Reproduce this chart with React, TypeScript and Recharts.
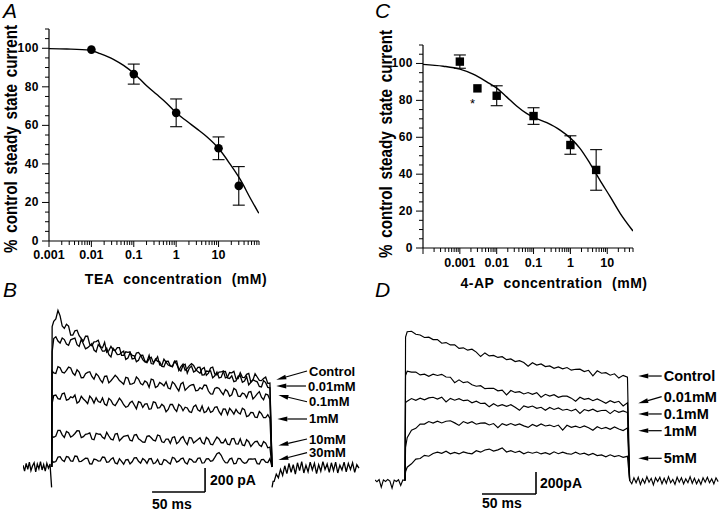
import React from 'react';
import {
  ComposedChart,
  LineChart,
  Line,
  Scatter,
  ErrorBar,
  XAxis,
  YAxis,
  ReferenceLine,
  ReferenceDot,
} from 'recharts';

// ---------------- Panel A : TEA dose-response ----------------
const teaConc = [0.01, 0.1, 1, 10, 30];
const teaMean = [99.3, 86.6, 66.5, 48.1, 28.6];
const teaErr = [0, 5.2, 7.2, 5.9, 10];
const teaFitConc = [0.001, 0.00263, 0.0093, 0.0162, 0.0331, 0.0575, 0.1, 0.141, 0.204, 0.351, 0.605, 1, 1.8, 3.09, 5.37, 10, 19.1, 32.7, 56.2, 89];
const teaFitVal = [99.8, 99.6, 99.0, 97.2, 94.3, 91.1, 87.0, 83.9, 80.4, 76.0, 71.4, 66.5, 62.1, 58.2, 54.0, 48.1, 39.6, 31.8, 22.2, 14.4];

// ---------------- Panel C : 4-AP dose-response ----------------
const apConc = [0.001, 0.003, 0.01, 0.1, 1, 5];
const apMean = [101, 86.5, 82.5, 71.5, 55.8, 42.3];
const apErr = [3.6, 0, 5.4, 4.5, 5, 11];
const apFitConc = [0.0001, 0.000355, 0.001, 0.00229, 0.00537, 0.0102, 0.0186, 0.0347, 0.0646, 0.102, 0.229, 0.525, 1.02, 1.82, 3.39, 6.31, 12.0, 22.4, 50];
const apFitVal = [99.5, 98.5, 96.9, 94.2, 90.0, 86.5, 81.9, 76.9, 72.9, 70.8, 67.9, 63.9, 59.4, 54.0, 45.9, 36.8, 27.8, 18.8, 9.2];

// axis tick labels
const yLabelTicks = [0, 20, 40, 60, 80, 100];
const yMinorTicks = [0, 5, 10, 15, 20, 25, 30, 35, 40, 45, 50, 55, 60, 65, 70, 75, 80, 85, 90, 95, 100, 105, 110];
const xLabelsA = [0.001, 0.01, 0.1, 1, 10];
const xLabelsC = [0.001, 0.01, 0.1, 1, 10];
const decadesA = [0.001, 0.01, 0.1, 1, 10];
const decadesC = [0.0001, 0.001, 0.01, 0.1, 1, 10];
const mults = [1, 2, 3, 4, 5, 6, 7, 8, 9];

// ---------------- Panel B : TEA current traces (ms, pA) ----------------
const tB = [0, 0.5, 2, 6, 10, 14, 18, 22, 26, 30, 34, 38, 42, 46, 50, 54, 58, 62, 66, 70, 74, 78, 82, 86, 90, 94, 98, 102, 106, 110, 114, 118, 122, 126, 130, 134, 138, 142, 146, 150, 154, 158, 162, 166, 170, 174, 178, 182, 186, 190, 194, 198, 202, 206, 208];
const bControl = [0, 1170, 1215, 1305, 1175, 1190, 1100, 1135, 1095, 1050, 1090, 1010, 1045, 1005, 1040, 970, 975, 995, 930, 960, 960, 905, 955, 895, 870, 915, 890, 850, 898, 850, 835, 883, 837, 805, 845, 847, 795, 818, 765, 825, 775, 790, 800, 750, 785, 735, 785, 745, 780, 725, 750, 720, 750, 700, 0];
const b001 = [0, 960, 1070, 1050, 1075, 1025, 1060, 1075, 1005, 1025, 995, 1030, 960, 1000, 965, 937, 990, 937, 955, 897, 950, 927, 890, 932, 880, 862, 900, 877, 835, 882, 840, 857, 800, 857, 825, 792, 830, 767, 800, 802, 760, 742, 795, 742, 760, 717, 760, 717, 685, 727, 710, 667, 703, 660, 0];
const b01 = [0, 800, 785, 837, 790, 805, 825, 765, 792, 745, 788, 755, 778, 726, 755, 701, 741, 747, 707, 748, 689, 701, 733, 684, 705, 732, 663, 705, 676, 658, 709, 661, 692, 639, 675, 687, 638, 650, 680, 610, 655, 654, 603, 632, 602, 642, 588, 609, 625, 567, 609, 581, 608, 560, 0];
const b1 = [0, 530, 595, 570, 610, 557, 585, 600, 546, 567, 528, 570, 577, 538, 525, 572, 523, 540, 551, 498, 535, 517, 544, 496, 528, 485, 537, 495, 507, 479, 521, 464, 506, 498, 461, 503, 476, 509, 462, 455, 498, 461, 484, 436, 468, 480, 442, 478, 428, 453, 412, 445, 412, 405, 0];
const b10 = [0, 255, 248, 305, 268, 296, 250, 279, 301, 253, 276, 233, 281, 273, 236, 258, 226, 279, 237, 260, 223, 266, 234, 207, 255, 244, 217, 261, 204, 233, 246, 195, 239, 212, 246, 200, 229, 203, 246, 190, 219, 233, 202, 190, 234, 192, 235, 178, 211, 193, 214, 170, 199, 165, 0];
const b30 = [0, 50, 40, 82, 58, 87, 50, 91, 45, 60, 72, 25, 62, 51, 80, 43, 77, 26, 47, 60, 25, 76, 48, 70, 30, 70, 35, 23, 62, 38, 80, 40, 68, 37, 68, 40, 72, 32, 68, 47, 80, 120, 60, 35, 73, 30, 70, 31, 65, 65, 28, 62, 40, 70, 0];
// in-between samples of the same traces (t = 4, 8, ... 204 ms)
const tB2 = [4, 8, 12, 16, 20, 24, 28, 32, 36, 40, 44, 48, 52, 56, 60, 64, 68, 72, 76, 80, 84, 88, 92, 96, 100, 104, 108, 112, 116, 120, 124, 128, 132, 136, 140, 144, 148, 152, 156, 160, 164, 168, 172, 176, 180, 184, 188, 192, 196, 200, 204];
const bControl2 = [1235, 1260, 1155, 1175, 1100, 1140, 1070, 1090, 1022, 1043, 1057, 993, 955, 1005, 970, 995, 930, 955, 900, 950, 930, 875, 902, 870, 920, 846, 874, 842, 881, 805, 858, 822, 861, 813, 781, 829, 782, 832, 767, 792, 742, 787, 797, 737, 747, 772, 707, 777, 722, 737, 697];
const b0012 = [1085, 1033, 1062, 1015, 1068, 1020, 1065, 985, 1010, 975, 1020, 965, 991, 918, 966, 938, 966, 908, 931, 878, 931, 883, 931, 858, 881, 838, 881, 843, 881, 818, 846, 783, 841, 803, 831, 768, 796, 743, 791, 748, 796, 738, 711, 758, 706, 753, 706, 718, 671, 720, 664];
const b012 = [780, 828, 783, 833, 783, 811, 744, 777, 794, 732, 760, 703, 758, 719, 764, 720, 690, 741, 693, 750, 696, 717, 664, 725, 672, 693, 710, 651, 693, 634, 706, 657, 684, 635, 662, 683, 633, 608, 662, 626, 645, 590, 655, 590, 616, 577, 629, 586, 628, 560, 602];
const b12 = [600, 565, 616, 563, 577, 533, 589, 550, 591, 533, 545, 576, 513, 555, 511, 573, 519, 506, 548, 485, 537, 524, 481, 543, 491, 523, 460, 522, 485, 522, 469, 492, 454, 517, 465, 453, 496, 464, 502, 435, 482, 489, 441, 453, 490, 420, 455, 415, 463, 411, 436];
const b102 = [258, 305, 247, 285, 260, 302, 245, 272, 284, 227, 274, 247, 289, 232, 275, 218, 256, 264, 217, 270, 223, 206, 260, 223, 266, 210, 233, 197, 251, 209, 253, 187, 241, 215, 244, 192, 231, 185, 249, 202, 231, 185, 238, 191, 184, 227, 170, 211, 182, 212, 160];
const b302 = [45, 86, 45, 82, 48, 88, 47, 73, 26, 66, 49, 83, 39, 65, 34, 69, 23, 62, 43, 77, 32, 57, 67, 27, 64, 20, 55, 26, 73, 49, 75, 25, 61, 41, 75, 35, 70, 53, 110, 98, 37, 66, 26, 72, 43, 36, 67, 69, 25, 63, 37];
const tBpre = [-27, -25.5, -24, -22.5, -21, -19.5, -18, -16.5, -15, -13.5, -12, -10.5, -9, -7.5, -6, -4.5, -3, -1.5, 0];
const bPre = [15, -35, 30, -20, 40, -30, 10, 35, -40, 25, -15, 45, -25, 20, -35, 30, -10, 25, -170];
const tBpost = [208, 209, 210, 212, 214, 216, 218, 220, 222, 224, 226, 228, 230, 232, 234, 236, 238, 240, 242, 244, 246, 248, 250, 252, 254, 256, 258, 260, 262, 264, 266, 268, 270, 272, 274, 276, 278, 280, 282, 284, 286, 288, 290];
const bPost = [-170, -120, -120, -60, -90, -20, -70, 10, -55, 30, -45, 20, -60, 35, -30, 45, -50, 15, -40, 40, -25, 30, -55, 20, -35, 45, -20, 25, -45, 35, -30, 40, -50, 15, -25, 40, -40, 30, -20, 35, -45, 20, -10];

// ---------------- Panel D : 4-AP current traces (ms, pA) ----------------
const tD = [0, 0.5, 2, 6, 10, 14, 18, 22, 26, 30, 34, 38, 42, 46, 50, 54, 58, 62, 66, 70, 74, 78, 82, 86, 90, 94, 98, 102, 106, 110, 114, 118, 122, 126, 130, 134, 138, 142, 146, 150, 154, 158, 162, 166, 170, 174, 178, 182, 186, 190, 194, 198, 202, 206, 208];
const dControl = [0, 1305, 1352, 1357, 1329, 1323, 1300, 1303, 1281, 1282, 1248, 1254, 1233, 1233, 1201, 1206, 1185, 1194, 1167, 1127, 1160, 1133, 1137, 1119, 1126, 1099, 1105, 1081, 1090, 1073, 1039, 1071, 1050, 1060, 1036, 1042, 1020, 1033, 1015, 1027, 1003, 1011, 1012, 990, 1002, 952, 997, 975, 980, 957, 970, 931, 956, 940, 0];
const d001 = [0, 954, 994, 986, 986, 960, 967, 948, 967, 955, 965, 941, 939, 890, 915, 890, 898, 871, 857, 862, 835, 839, 838, 815, 822, 778, 818, 801, 808, 787, 800, 783, 799, 758, 784, 768, 780, 756, 767, 767, 749, 721, 757, 738, 746, 726, 742, 723, 702, 726, 708, 720, 678, 707, 0];
const d01 = [0, 708, 720, 745, 729, 748, 733, 751, 757, 741, 758, 715, 747, 730, 744, 726, 731, 707, 721, 700, 703, 670, 698, 676, 689, 675, 689, 666, 638, 678, 665, 677, 656, 666, 638, 664, 646, 660, 639, 648, 632, 649, 610, 645, 633, 649, 627, 637, 639, 608, 638, 620, 633, 618, 0];
const d1 = [0, 300, 390, 458, 474, 514, 513, 536, 522, 539, 523, 539, 543, 524, 501, 536, 520, 535, 512, 522, 524, 505, 518, 481, 517, 502, 518, 502, 514, 497, 483, 510, 493, 514, 496, 504, 489, 504, 459, 502, 484, 494, 480, 497, 480, 457, 489, 471, 483, 466, 487, 469, 454, 477, 0];
const d5 = [0, 80, 121, 152, 195, 200, 229, 221, 246, 258, 247, 266, 243, 255, 242, 260, 249, 243, 271, 258, 278, 286, 268, 279, 297, 259, 271, 255, 267, 243, 259, 248, 259, 242, 253, 238, 261, 244, 258, 245, 239, 257, 239, 249, 231, 246, 227, 233, 216, 234, 218, 227, 211, 220, 0];
const tDpre = [-28, -26, -24, -22, -20, -18, -16, -14, -12, -10, -8, -6, -4, -2, 0];
const dPre = [5, -10, 8, -60, 6, -8, 10, -5, -70, 4, -9, 7, -45, 5, 0];
const tDpost = [208, 210, 212, 214, 216, 218, 220, 222, 224, 226, 228, 230, 232, 234, 236, 238, 240, 242, 244, 246, 248, 250, 252, 254, 256, 258, 260, 262, 264, 266, 268, 270, 272, 274, 276, 278, 280, 282, 284, 286, 288, 290];
const dPost = [0, -30, 25, -20, 30, -35, 15, -25, 35, -15, 20, -40, 25, -10, 30, -30, 20, -25, 35, -20, 10, -35, 30, -15, 25, -30, 15, -20, 35, -25, 20, -30, 10, -35, 25, -15, 30, -20, 15, -30, 25, -10];

// trace annotations: label, tail (ms, pA) and arrow tip (ms, pA)
const labelsB = [
  { text: 'Control', from: [241, 800], to: [212, 727] },
  { text: '0.01mM', from: [240, 675], to: [212, 675] },
  { text: '0.1mM', from: [241, 544], to: [214, 600] },
  { text: '1mM', from: [241, 400], to: [213, 400] },
  { text: '10mM', from: [241, 233], to: [214, 178] },
  { text: '30mM', from: [241, 119], to: [214, 58] },
];
const labelsD = [
  { text: 'Control', from: [237.7, 950], to: [216, 950] },
  { text: '0.01mM', from: [237.7, 762], to: [216, 702] },
  { text: '0.1mM', from: [237.7, 605], to: [216, 605] },
  { text: '1mM', from: [237.7, 453], to: [216, 453] },
  { text: '5mM', from: [237.7, 202], to: [216, 202] },
];
// scale bars: 200 pA, 50 ms
const scaleB = { t: 144.8, top: -8, amp: 200, dur: 50 };
const scaleD = { t: 121.3, top: 77, amp: 200, dur: 50 };

// ---------------- helpers ----------------
const mkXY = (xs: number[], ys: number[], es?: number[]) =>
  xs.map((x, i) => ({ x, y: ys[i], err: es ? es[i] : 0 }));
const mkT = (ts: number[], vs: number[]) => ts.map((t, i) => ({ t, v: vs[i] }));
const mkT2 = (ts: number[], vs: number[], ts2: number[], vs2: number[]) =>
  [...mkT(ts, vs), ...mkT(ts2, vs2)].sort((a, b) => a.t - b.t);
const logTicks = (decs: number[], max: number) =>
  decs.flatMap((d) => mults.map((m) => +(d * m).toPrecision(6))).filter((v) => v <= max);

const SANS = 'Arial, "Liberation Sans", Helvetica, sans-serif';

const xTickStyle: React.CSSProperties = { fontFamily: SANS, fontWeight: 700, fontSize: 12.5, fill: '#000' };
const yTickStyle: React.CSSProperties = { fontFamily: SANS, fontWeight: 700, fontSize: 12, letterSpacing: 0.5, fill: '#000' };

function makeXTick(labels: number[], labelDy: number) {
  return (p: any) => {
    const { x, y, payload } = p;
    const v = payload.value as number;
    const lg = Math.log10(v);
    const major = Math.abs(lg - Math.round(lg)) < 1e-6;
    const lab = labels.find((l) => Math.abs(l - v) < 1e-12);
    return (
      <g>
        <line x1={x} x2={x} y1={y} y2={y + (major ? 6 : 4)} stroke="#000" strokeWidth={1} />
        {lab !== undefined && (
          <text x={x} y={y + labelDy} textAnchor="middle" dominantBaseline="central" style={xTickStyle}>
            {String(lab)}
          </text>
        )}
      </g>
    );
  };
}

function YTick(p: any) {
  const { x, y, payload } = p;
  const v = payload.value as number;
  const major = yLabelTicks.includes(v);
  return (
    <g>
      <line x1={x} x2={x - (major ? 7 : 4)} y1={y} y2={y} stroke="#000" strokeWidth={1} />
      {major && (
        <text x={x - 10} y={y} textAnchor="end" dominantBaseline="central" style={yTickStyle}>
          {String(v)}
        </text>
      )}
    </g>
  );
}

function arrowShape(label: string, fontSize: number) {
  return (p: any) => {
    const { x1, y1, x2, y2 } = p;
    const ang = Math.atan2(y2 - y1, x2 - x1);
    const L = 10;
    const W = 2.4;
    const bx = x2 - L * Math.cos(ang);
    const by = y2 - L * Math.sin(ang);
    const nx = -Math.sin(ang) * W;
    const ny = Math.cos(ang) * W;
    return (
      <g>
        <line x1={x1} y1={y1} x2={bx} y2={by} stroke="#000" strokeWidth={1.2} />
        <polygon points={`${x2},${y2} ${bx + nx},${by + ny} ${bx - nx},${by - ny}`} fill="#000" />
        <text x={x1 + 2} y={y1} dominantBaseline="central" style={{ fontFamily: SANS, fontWeight: 700, fontSize, fill: '#000' }}>
          {label}
        </text>
      </g>
    );
  };
}

function barShape(label: string, mode: 'right' | 'below', dx: number, dy: number) {
  return (p: any) => {
    const { x1, y1, x2, y2 } = p;
    const tx = mode === 'right' ? Math.max(x1, x2) + dx : Math.min(x1, x2) + dx;
    const ty = mode === 'right' ? (y1 + y2) / 2 + dy : Math.max(y1, y2) + dy;
    return (
      <g>
        <line x1={x1} y1={y1} x2={x2} y2={y2} stroke="#000" strokeWidth={1.6} />
        <text x={tx} y={ty} dominantBaseline="central" style={{ fontFamily: SANS, fontWeight: 700, fontSize: 14, fill: '#000' }}>
          {label}
        </text>
      </g>
    );
  };
}

const circleShape = (p: any) => <circle cx={p.cx} cy={p.cy} r={4.3} fill="#000" />;
const squareShape = (p: any) => <rect x={p.cx - 4.2} y={p.cy - 4.2} width={8.4} height={8.4} fill="#000" />;
const asteriskShape = (p: any) => (
  <text x={p.cx} y={p.cy} textAnchor="middle" dominantBaseline="central" style={{ fontFamily: SANS, fontSize: 13, fill: '#000' }}>
    *
  </text>
);

const abs = (left: number, top: number): React.CSSProperties => ({ position: 'absolute', left, top });

const panelLetter: React.CSSProperties = {
  position: 'absolute',
  fontFamily: SANS,
  fontStyle: 'italic',
  fontSize: 21,
  lineHeight: '21px',
  color: '#000',
};
const yTitle: React.CSSProperties = {
  position: 'absolute',
  transform: 'translate(-50%, -50%) rotate(-90deg) scaleX(0.845)',
  whiteSpace: 'nowrap',
  fontFamily: SANS,
  fontWeight: 700,
  fontSize: 18,
  wordSpacing: 3,
  lineHeight: '20px',
  color: '#000',
};
const xTitle: React.CSSProperties = {
  position: 'absolute',
  transform: 'translate(-50%, -50%)',
  whiteSpace: 'nowrap',
  fontFamily: SANS,
  fontWeight: 700,
  fontSize: 14,
  letterSpacing: 0.5,
  wordSpacing: 5,
  lineHeight: '16px',
  color: '#000',
};

function DosePanel(props: {
  pts: { x: number; y: number; err: number }[];
  fit: { x: number; y: number; err: number }[];
  domain: [number, number];
  ticks: number[];
  labels: number[];
  labelDy: number;
  height: number;
  margin: { top: number; right: number; bottom: number; left: number };
  shape: (p: any) => React.ReactElement;
  children?: React.ReactNode;
}) {
  return (
    <ComposedChart width={360} height={props.height} margin={props.margin}>
      <XAxis
        dataKey="x"
        type="number"
        scale="log"
        domain={props.domain}
        ticks={props.ticks}
        interval={0}
        allowDataOverflow
        tick={makeXTick(props.labels, props.labelDy)}
        tickLine={false}
        tickSize={0}
        tickMargin={0}
        axisLine={{ stroke: '#000', strokeWidth: 1.2 }}
        height={22}
      />
      <YAxis
        type="number"
        domain={[0, 110]}
        ticks={yMinorTicks}
        interval={0}
        allowDataOverflow
        tick={YTick}
        tickLine={false}
        tickSize={0}
        tickMargin={0}
        axisLine={{ stroke: '#000', strokeWidth: 1.2 }}
        width={40}
      />
      <Line data={props.fit} dataKey="y" type="monotone" stroke="#000" strokeWidth={1.4} dot={false} isAnimationActive={false} />
      <Scatter data={props.pts} dataKey="y" shape={props.shape} isAnimationActive={false}>
        <ErrorBar dataKey="err" direction="y" width={6} stroke="#000" strokeWidth={1.1} />
      </Scatter>
      {props.children}
    </ComposedChart>
  );
}

function TracePanel(props: {
  traces: { t: number; v: number }[][];
  xDomain: [number, number];
  yDomain: [number, number];
  marginLeft: number;
  stroke: number;
  labels: { text: string; from: number[]; to: number[] }[];
  labelSize: number;
  scale: { t: number; top: number; amp: number; dur: number };
  ampLabel: string;
  ampDx: number;
  durDy: number;
}) {
  const s = props.scale;
  const bottom = s.top - s.amp;
  return (
    <LineChart width={360} height={221} margin={{ top: 10, right: 0, bottom: 0, left: props.marginLeft }}>
      <XAxis dataKey="t" type="number" domain={props.xDomain} hide allowDataOverflow />
      <YAxis type="number" domain={props.yDomain} hide allowDataOverflow />
      {props.traces.map((d, i) => (
        <Line
          key={i}
          data={d}
          dataKey="v"
          type="linear"
          stroke="#000"
          strokeWidth={props.stroke}
          dot={false}
          isAnimationActive={false}
        />
      ))}
      {props.labels.map((l, i) => (
        <ReferenceLine
          key={'a' + i}
          segment={[
            { x: l.from[0], y: l.from[1] },
            { x: l.to[0], y: l.to[1] },
          ]}
          shape={arrowShape(l.text, props.labelSize)}
        />
      ))}
      <ReferenceLine
        segment={[
          { x: s.t, y: s.top },
          { x: s.t, y: bottom },
        ]}
        shape={barShape(props.ampLabel, 'right', props.ampDx, 0)}
      />
      <ReferenceLine
        segment={[
          { x: s.t - s.dur, y: bottom },
          { x: s.t, y: bottom },
        ]}
        shape={barShape('50 ms', 'below', 0, props.durDy)}
      />
    </LineChart>
  );
}

export default function App() {
  const ptsA = mkXY(teaConc, teaMean, teaErr);
  const fitA = mkXY(teaFitConc, teaFitVal);
  const ptsC = mkXY(apConc, apMean, apErr);
  const fitC = mkXY(apFitConc, apFitVal);

  const tracesB = [
    mkT(tBpre, bPre),
    mkT(tBpost, bPost),
    mkT2(tB, b30, tB2, b302),
    mkT2(tB, b10, tB2, b102),
    mkT2(tB, b1, tB2, b12),
    mkT2(tB, b01, tB2, b012),
    mkT2(tB, b001, tB2, b0012),
    mkT2(tB, bControl, tB2, bControl2),
  ];
  const tracesD = [
    mkT(tDpre, dPre),
    mkT(tDpost, dPost),
    mkT(tD, d5),
    mkT(tD, d1),
    mkT(tD, d01),
    mkT(tD, d001),
    mkT(tD, dControl),
  ];

  return (
    <div style={{ position: 'absolute', left: 0, top: 0, width: 720, height: 511, background: '#fff', overflow: 'hidden' }}>
      <div style={abs(0, 0)}>
        <DosePanel
          pts={ptsA}
          fit={fitA}
          domain={[0.001, 90]}
          ticks={logTicks(decadesA, 90)}
          labels={xLabelsA}
          labelDy={14}
          height={265}
          margin={{ top: 29, right: 101, bottom: 2, left: 9 }}
          shape={circleShape}
        />
      </div>
      <div style={abs(360, 0)}>
        <DosePanel
          pts={ptsC}
          fit={fitC}
          domain={[0.0001, 50]}
          ticks={logTicks(decadesC, 50)}
          labels={xLabelsC}
          labelDy={15}
          height={272}
          margin={{ top: 45, right: 87, bottom: 2, left: 23 }}
          shape={squareShape}
        >
          <ReferenceDot x={0.0022} y={78.5} r={0} shape={asteriskShape} />
        </DosePanel>
      </div>
      <div style={abs(0, 290)}>
        <TracePanel
          traces={tracesB}
          xDomain={[-27, 291]}
          yDomain={[-367, 1392]}
          marginLeft={23}
          stroke={1.3}
          labels={labelsB}
          labelSize={13}
          scale={scaleB}
          ampLabel="200 pA"
          ampDx={5}
          durDy={12}
        />
      </div>
      <div style={abs(360, 290)}>
        <TracePanel
          traces={tracesD}
          xDomain={[-27.8, 291.7]}
          yDomain={[-277, 1641]}
          marginLeft={15}
          stroke={1.15}
          labels={labelsD}
          labelSize={14.5}
          scale={scaleD}
          ampLabel="200pA"
          ampDx={4}
          durDy={9}
        />
      </div>

      <div style={{ ...panelLetter, left: 3, top: 0 }}>A</div>
      <div style={{ ...panelLetter, left: 375, top: 0 }}>C</div>
      <div style={{ ...panelLetter, left: 3, top: 279 }}>B</div>
      <div style={{ ...panelLetter, left: 375, top: 279 }}>D</div>

      <div style={{ ...yTitle, left: 11, top: 139 }}>% control steady state current</div>
      <div style={{ ...yTitle, left: 386, top: 144 }}>% control steady state current</div>
      <div style={{ ...xTitle, left: 176, top: 279 }}>TEA concentration (mM)</div>
      <div style={{ ...xTitle, left: 554, top: 283 }}>4-AP concentration (mM)</div>
    </div>
  );
}
